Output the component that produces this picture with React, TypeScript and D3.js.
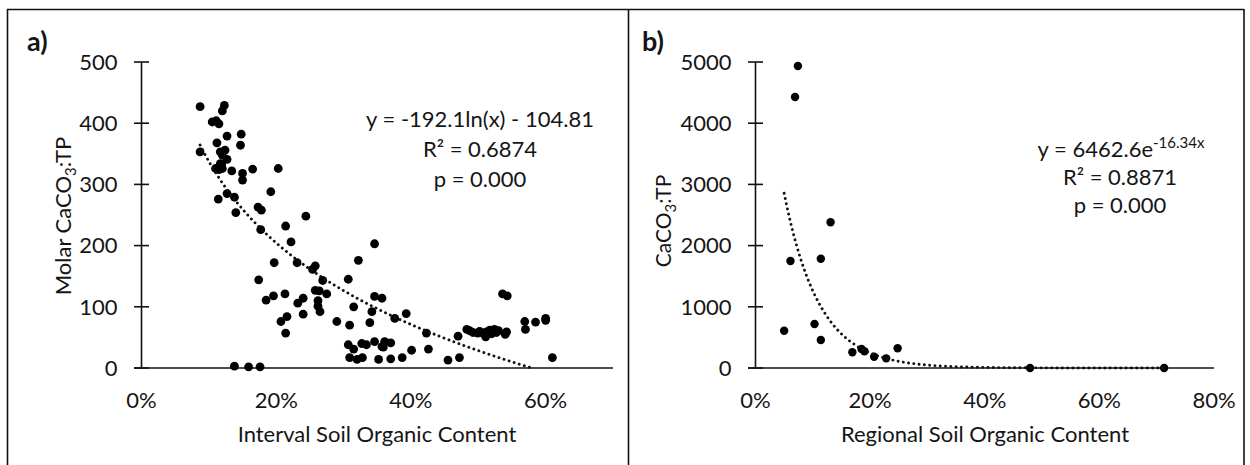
import React from "react";
import * as d3 from "d3";

// Panel a: Interval soil organic content (%) vs molar CaCO3:TP
const aOrganic = [
  8.7, 12.3, 12.0, 10.5, 11.1, 11.5, 12.7, 14.8, 14.7, 11.2, 8.7, 11.7, 12.4, 12.0, 12.7, 11.7, 11.0, 11.5, 12.0, 11.9,
  13.4, 15.0, 16.5, 20.3, 15.0, 11.4, 12.7, 13.8, 14.0, 17.3, 17.8, 19.2, 24.4, 17.7, 21.4, 22.2, 19.7, 23.1, 25.8, 25.4,
  26.9, 17.4, 30.7, 32.2, 34.6, 25.8, 26.4, 27.5, 26.2, 26.2, 26.5, 24.0, 23.2, 21.3, 19.6, 18.5, 24.0, 21.6, 20.7, 21.4,
  29.0, 30.9, 31.5, 34.6, 35.7, 34.2, 33.9, 30.7, 31.5, 32.7, 33.4, 34.6, 35.7, 30.9, 32.0, 32.8, 35.2, 13.8, 15.9, 17.6,
  37.6, 39.3, 42.3, 42.6, 40.1, 36.1, 37.0, 35.9, 37.0, 38.7, 45.5, 47.2, 47.0,
  48.7, 49.2, 49.9, 50.7, 51.2, 51.7, 52.4, 52.7, 51.1, 54.0, 54.2, 48.3, 50.2, 52.0, 53.0,
  53.6, 54.3, 56.9, 57.0, 58.5, 60.0, 60.0, 61.0,
];
const aRatio = [
  427, 429, 420, 402, 404, 399, 379, 382, 364, 368, 353, 353, 356, 348, 341, 334, 326, 324, 326, 332,
  322, 318, 325, 326, 307, 276, 285, 279, 254, 263, 258, 288, 248, 226, 232, 206, 172, 172, 167, 161,
  143, 144, 145, 176, 203, 127, 126, 121, 110, 101, 92, 114, 106, 121, 118, 111, 88, 84, 76, 57,
  76, 70, 100, 117, 114, 92, 74, 38, 31, 40, 38, 43, 35, 17, 14, 17, 14, 3, 2, 2,
  81, 89, 57, 31, 29, 43, 41, 34, 15, 17, 13, 17, 52,
  61, 58, 57, 57, 59, 62, 63, 58, 51, 55, 59, 63, 60, 56, 61,
  121, 118, 76, 63, 75, 81, 78, 17,
];

// Panel b: Regional soil organic content (%) vs CaCO3:TP
const bOrganic = [7.4, 6.9, 13.1, 6.1, 11.4, 5.0, 10.3, 11.4, 16.9, 18.5, 19.0, 20.7, 22.8, 24.8, 47.9, 71.3];
const bRatio = [4935, 4428, 2381, 1748, 1786, 609, 719, 458, 257, 310, 273, 185, 158, 322, 0, 0];

const aYTicks = [0, 100, 200, 300, 400, 500];
const aXTicks = [0, 0.2, 0.4, 0.6];
const bYTicks = [0, 1000, 2000, 3000, 4000, 5000];
const bXTicks = [0, 0.2, 0.4, 0.6, 0.8];

// Trendline equations shown on the chart
const aFit = (x: number) => -192.1 * Math.log(x) - 104.81;
const bFit = (x: number) => 6462.6 * Math.exp(-16.34 * x);

const FONT = "Lato, 'Open Sans', sans-serif";
const TXT = "#151515";
const FS = 22;

function Panel(props: {
  xs: number[]; ys: number[]; xMax: number; yMax: number;
  xRange: [number, number]; yRange: [number, number];
  xTicks: number[]; yTicks: number[]; fit: (x: number) => number;
  r: number; keyPrefix: string;
}) {
  const { xs, ys, xMax, yMax, xRange, yRange, xTicks, yTicks, fit, r, keyPrefix } = props;
  const x = d3.scaleLinear().domain([0, xMax]).range(xRange);
  const y = d3.scaleLinear().domain([0, yMax]).range(yRange);
  const fx = xs.map((v) => v / 100);
  const lo = d3.min(fx) as number;
  const hi = d3.max(fx) as number;
  const samples = d3.range(0, 301).map((i) => lo + ((hi - lo) * i) / 300);
  const pts: [number, number][] = samples
    .map((v) => [v, fit(v)] as [number, number])
    .filter((p) => p[1] >= 0 && p[1] <= yMax);
  const line = d3.line<[number, number]>().x((d) => x(d[0])).y((d) => y(d[1])).curve(d3.curveMonotoneX);
  const fmt = d3.format(".0%");
  return (
    <g>
      <line x1={x(0)} x2={x(0)} y1={y(0)} y2={y(yMax)} stroke="#111" strokeWidth={1.6} />
      {yTicks.map((t) => (
        <g key={keyPrefix + "yt" + t}>
          <line x1={x(0) - 7.5} x2={x(0) + 7.5} y1={y(t)} y2={y(t)} stroke="#111" strokeWidth={1.6} />
          <text x={x(0) - 24} y={y(t)} dy="0.35em" textAnchor="end" fontSize={FS} fill={TXT} fontFamily={FONT}>
            {t}
          </text>
        </g>
      ))}
      <line x1={x(0) - 7.5} x2={x(xMax)} y1={y(0)} y2={y(0)} stroke="#111" strokeWidth={1.6} />
      {xTicks.map((t) => (
        <text key={keyPrefix + "xt" + t} x={x(t)} y={408} textAnchor="middle" fontSize={FS} fill={TXT} fontFamily={FONT}>
          {fmt(t)}
        </text>
      ))}
      {xs.map((v, i) => (
        <circle key={keyPrefix + "p" + i} cx={x(v / 100)} cy={y(ys[i])} r={r} fill="#000" />
      ))}
      <path d={line(pts) || ""} fill="none" stroke="#111" strokeWidth={2.9} strokeLinecap="round" strokeDasharray="0.01 5.3" />
    </g>
  );
}

export default function App() {
  return (
    <svg width={1250} height={465} style={{ position: "absolute", left: 0, top: 0, background: "#fff" }}>
      <rect x={0} y={0} width={1250} height={465} fill="#fff" />
      <line x1={7} x2={1244} y1={9.5} y2={9.5} stroke="#111" strokeWidth={1.6} />
      <line x1={7.5} x2={7.5} y1={9} y2={465} stroke="#111" strokeWidth={1.6} />
      <line x1={628.5} x2={628.5} y1={9} y2={465} stroke="#111" strokeWidth={1.6} />
      <line x1={1244} x2={1244} y1={9} y2={465} stroke="#111" strokeWidth={1.6} />

      {/* Panel a */}
      <text x={27} y={51} fontSize={27} fontWeight="bold" fill={TXT} fontFamily={FONT}>a)</text>
      <Panel xs={aOrganic} ys={aRatio} xMax={0.7} yMax={500} xRange={[141.5, 613]} yRange={[368, 62]}
        xTicks={aXTicks} yTicks={aYTicks} fit={aFit} r={4.4} keyPrefix="a" />
      <text transform="translate(71,216) rotate(-90)" textAnchor="middle" fontSize={FS} fill={TXT} fontFamily={FONT}>
        Molar CaCO<tspan dy={5} fontSize={15}>3</tspan><tspan dy={-5}>:TP</tspan>
      </text>
      <text x={377} y={442} textAnchor="middle" fontSize={FS} fill={TXT} fontFamily={FONT}>Interval Soil Organic Content</text>
      <text x={480} y={127} textAnchor="middle" fontSize={FS} fill={TXT} fontFamily={FONT}>y = -192.1ln(x) - 104.81</text>
      <text x={480} y={157} textAnchor="middle" fontSize={FS} fill={TXT} fontFamily={FONT}>R² = 0.6874</text>
      <text x={480} y={187} textAnchor="middle" fontSize={FS} fill={TXT} fontFamily={FONT}>p = 0.000</text>

      {/* Panel b */}
      <text x={642} y={51} fontSize={27} fontWeight="bold" fill={TXT} fontFamily={FONT}>b)</text>
      <Panel xs={bOrganic} ys={bRatio} xMax={0.8} yMax={5000} xRange={[755.5, 1214]} yRange={[368, 62]}
        xTicks={bXTicks} yTicks={bYTicks} fit={bFit} r={4.2} keyPrefix="b" />
      <text transform="translate(671,221) rotate(-90)" textAnchor="middle" fontSize={21} fill={TXT} fontFamily={FONT}>
        CaCO<tspan dy={5} fontSize={15}>3</tspan><tspan dy={-5}>:TP</tspan>
      </text>
      <text x={985} y={442} textAnchor="middle" fontSize={FS} fill={TXT} fontFamily={FONT}>Regional Soil Organic Content</text>
      <text x={1121} y={157} textAnchor="middle" fontSize={FS} fill={TXT} fontFamily={FONT}>
        y = 6462.6e<tspan dy={-9} fontSize={15}>-16.34x</tspan>
      </text>
      <text x={1120} y={185} textAnchor="middle" fontSize={FS} fill={TXT} fontFamily={FONT}>R² = 0.8871</text>
      <text x={1120} y={213} textAnchor="middle" fontSize={FS} fill={TXT} fontFamily={FONT}>p = 0.000</text>
    </svg>
  );
}
